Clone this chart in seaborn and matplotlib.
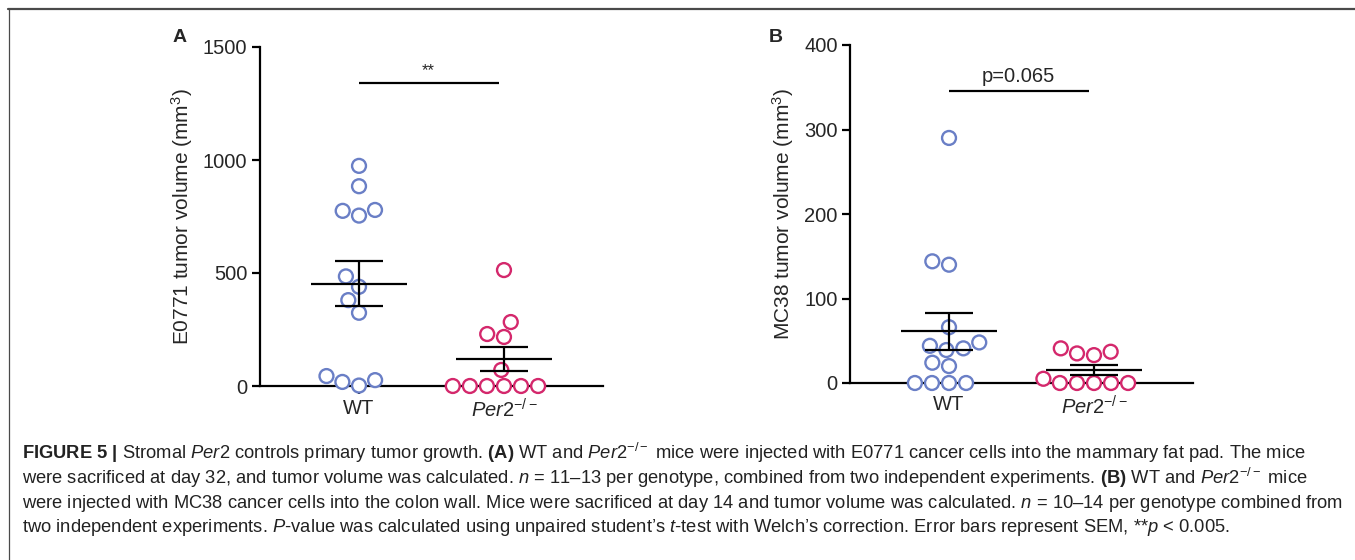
import numpy as np
import pandas as pd
import matplotlib
matplotlib.use('Agg')
import matplotlib.pyplot as plt
from matplotlib.lines import Line2D
import seaborn as sns

# group order and tick labels
groups = ['WT', 'Per2']
group_labels = ['WT', r'$\it{Per2}^{-/-}$']

# tumour volumes (mm3)
e0771_wt = [974, 884, 779, 775, 754, 485, 439, 380, 324, 44, 26, 18, 2]
e0771_per2 = [513, 283, 230, 217, 71, 0, 0, 0, 0, 0, 0]
mc38_wt = [290, 144, 140, 66, 48, 44, 41, 39, 24, 20, 0, 0, 0, 0]
mc38_per2 = [41, 37, 35, 33, 5, 0, 0, 0, 0, 0]

BLUE = '#6a7fc6'
PINK = '#d4286c'

caption_lines = [
    r"$\bf{FIGURE\ 5\ |}$ Stromal $\it{Per2}$ controls primary tumor growth. $\bf{(A)}$ WT and $\it{Per2}^{-/-}$ mice were injected with E0771 cancer cells into the mammary fat pad. The mice",
    r"were sacrificed at day 32, and tumor volume was calculated. $\it{n}$ = 11–13 per genotype, combined from two independent experiments. $\bf{(B)}$ WT and $\it{Per2}^{-/-}$ mice",
    r"were injected with MC38 cancer cells into the colon wall. Mice were sacrificed at day 14 and tumor volume was calculated. $\it{n}$ = 10–14 per genotype combined from",
    r"two independent experiments. $\it{P}$-value was calculated using unpaired student’s $\it{t}$-test with Welch’s correction. Error bars represent SEM, **$\it{p}$ < 0.005.",
]

sns.set_style('ticks')
plt.rcParams['font.family'] = ['Liberation Sans', 'DejaVu Sans']
plt.rcParams['mathtext.fontset'] = 'custom'
plt.rcParams['mathtext.rm'] = 'Liberation Sans'
plt.rcParams['mathtext.it'] = 'Liberation Sans:italic'
plt.rcParams['mathtext.bf'] = 'Liberation Sans:bold'
plt.rcParams['mathtext.sf'] = 'Liberation Sans'

W, H = 1355, 560


def draw_panel(ax, wt, per2, ymax, yticks, ylabel, sig_text, sig_y, sig_size, label_x):
    df = pd.DataFrame({
        'group': ['WT'] * len(wt) + ['Per2'] * len(per2),
        'value': wt + per2,
    })
    sns.swarmplot(data=df, x='group', y='value', hue='group', order=groups,
                  palette={'WT': BLUE, 'Per2': PINK}, size=10, legend=False, ax=ax)
    for coll in ax.collections:
        fc = coll.get_facecolors()
        coll.set_edgecolors(fc)
        coll.set_facecolor('white')
        coll.set_linewidth(1.7)
        coll.set_clip_on(False)
        coll.set_zorder(3)

    # mean +/- SEM
    for i, vals in enumerate([wt, per2]):
        v = np.array(vals, dtype=float)
        m = v.mean()
        se = v.std(ddof=1) / np.sqrt(len(v))
        ax.hlines(m, i - 0.33, i + 0.33, color='black', lw=1.6, zorder=4)
        ax.vlines(i, m - se, m + se, color='black', lw=1.6, zorder=4)
        ax.hlines([m - se, m + se], i - 0.165, i + 0.165, color='black', lw=1.6, zorder=4)

    # significance bar
    ax.hlines(sig_y, 0, 0.965, color='black', lw=1.6, clip_on=False)
    ax.annotate(sig_text, (0.48, sig_y), xytext=(0, 3), textcoords='offset points',
                ha='center', va='bottom', fontsize=sig_size)

    ax.set_xlim(-0.683, 1.683)
    ax.set_ylim(0, ymax)
    ax.set_yticks(yticks)
    ax.set_xticks([0, 1])
    ax.set_xticklabels(group_labels)
    ax.set_xlabel('')
    ax.set_ylabel(ylabel, fontsize=15)
    ax.yaxis.set_label_coords(label_x, 0.5)
    ax.tick_params(axis='both', labelsize=14.5, width=1.6, length=6, color='black')
    ax.tick_params(axis='y', pad=3)
    ax.tick_params(axis='x', pad=3)
    sns.despine(ax=ax)
    for sp in ['left', 'bottom']:
        ax.spines[sp].set_linewidth(1.6)
        ax.spines[sp].set_color('black')
        ax.spines[sp].set_zorder(2)


fig = plt.figure(figsize=(W / 100, H / 100), dpi=100)
ax_a = fig.add_axes([260 / W, 1 - 386 / H, 343 / W, 339 / H])
ax_b = fig.add_axes([850 / W, 1 - 383 / H, 343 / W, 338 / H])

draw_panel(ax_a, e0771_wt, e0771_per2, 1500, [0, 500, 1000, 1500],
           r'E0771 tumor volume (mm$^{3}$)', '**', 1342, 12, -0.19)
draw_panel(ax_b, mc38_wt, mc38_per2, 400, [0, 100, 200, 300, 400],
           r'MC38 tumor volume (mm$^{3}$)', 'p=0.065', 346, 14.5, -0.156)

fig.text(180 / W, 1 - 37 / H, 'A', ha='center', va='center', fontsize=14, weight='bold')
fig.text(776 / W, 1 - 37 / H, 'B', ha='center', va='center', fontsize=14, weight='bold')

# frame lines of the figure box
fig.add_artist(Line2D([8 / W, 1], [1 - 8.5 / H, 1 - 8.5 / H], color='#4a4a4a', lw=1.6))
fig.add_artist(Line2D([8.5 / W, 8.5 / W], [0, 1 - 8.5 / H], color='#4a4a4a', lw=0.9))

for k, line in enumerate(caption_lines):
    fig.text(22 / W, 1 - (453 + 25 * k) / H, line, ha='left', va='center',
             fontsize=13.2, color='#222222')

fig.savefig('out.png', dpi=100)
